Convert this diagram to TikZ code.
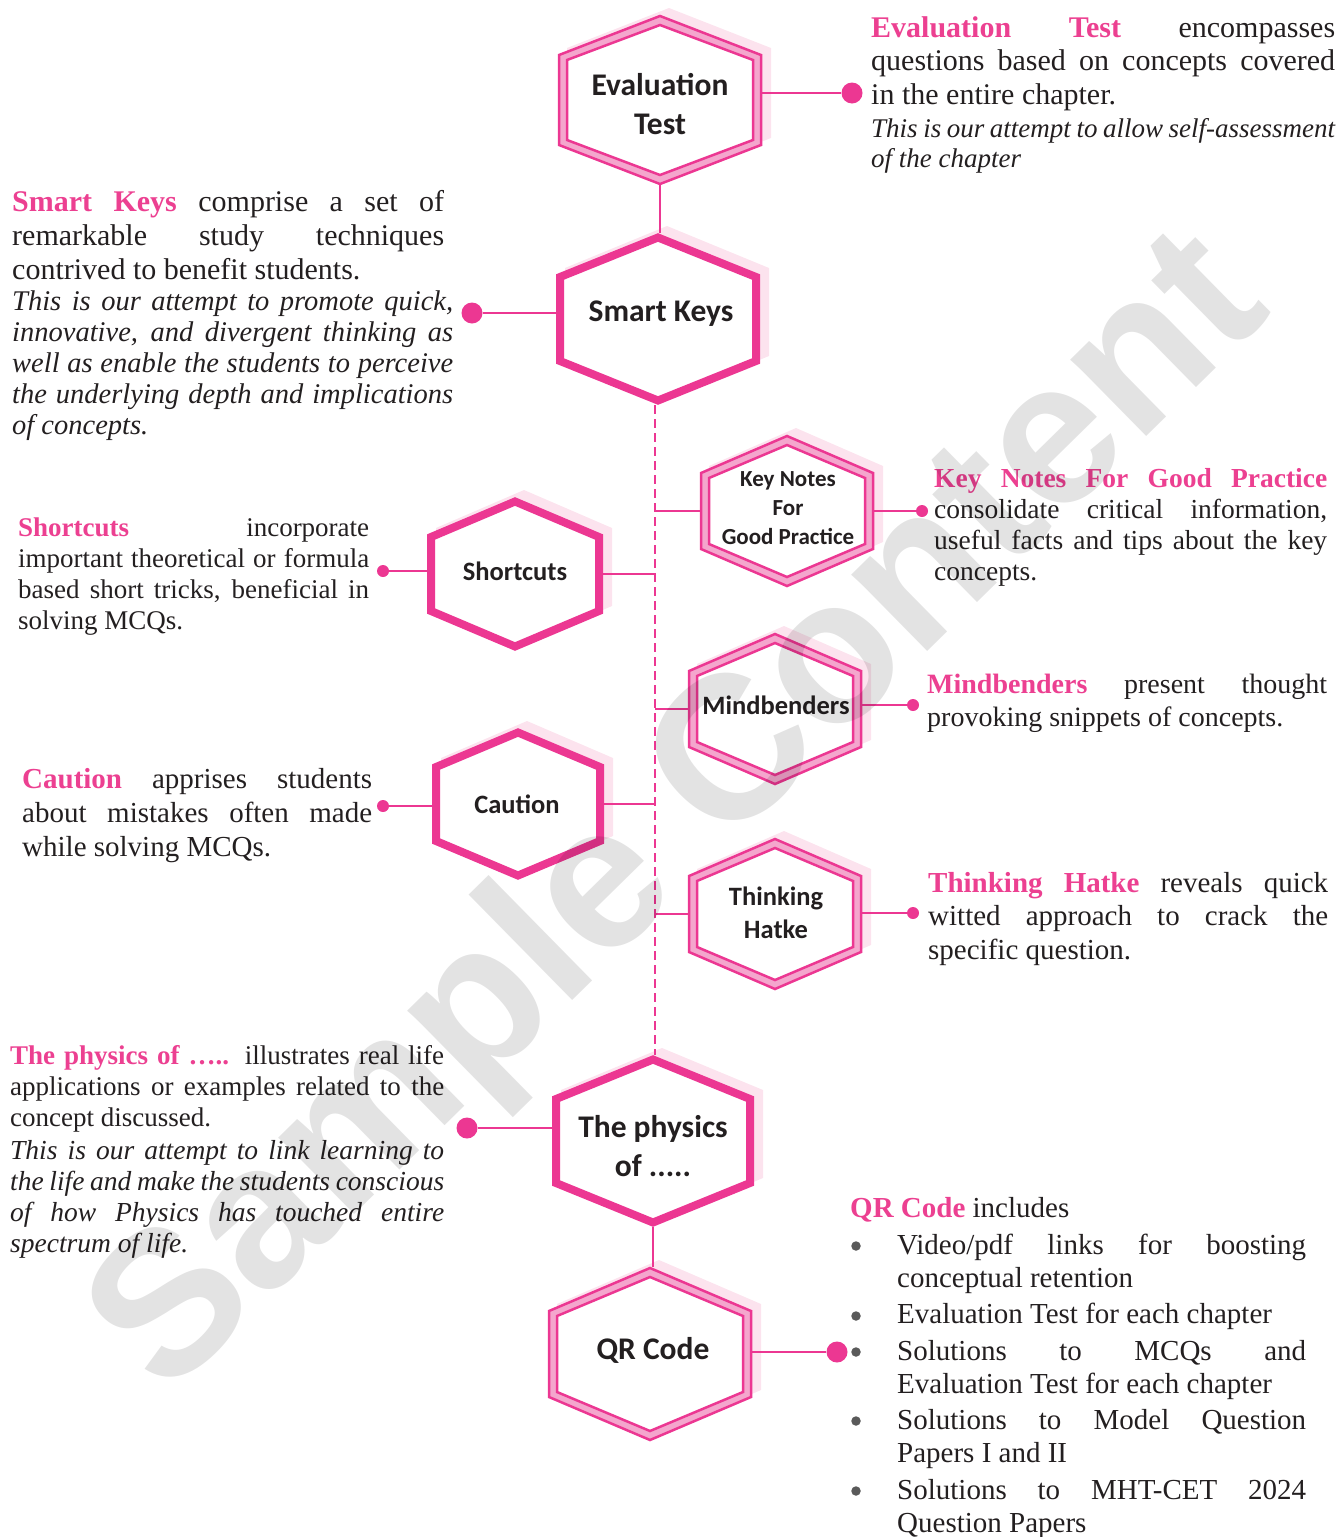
\documentclass[tikz,border=0pt]{standalone}
\usepackage{fontspec}
\setmainfont{Liberation Serif}[ItalicFont={Liberation Serif Italic}, BoldFont={Liberation Serif Bold}]
\newfontfamily\hexfont{Carlito}
\newfontfamily\markfont{Liberation Sans}

\definecolor{hexpink}{RGB}{236,55,146}
\definecolor{bandpink}{RGB}{244,166,205}
\definecolor{shadepink}{RGB}{252,227,238}
\definecolor{headpink}{RGB}{236,64,145}
\definecolor{inkgrey}{RGB}{35,31,32}
\definecolor{dotgrey}{RGB}{90,90,90}

\tolerance=10000
\hbadness=10000

\tikzset{
  hexshade/.style={fill=shadepink},
  hexband/.style={fill=bandpink, draw=hexpink, line width=2.5pt},
  hexinner/.style={fill=white, draw=hexpink, line width=2.5pt},
  hexthick/.style={fill=white, draw=hexpink, line width=8pt},
  biglabel/.style={font=\hexfont\bfseries\fontsize{31.5}{39}\selectfont, text=inkgrey, align=center, inner sep=0pt},
  smalllabel/.style={font=\hexfont\bfseries\fontsize{26.5}{33}\selectfont, text=inkgrey, align=center, inner sep=0pt},
  link/.style={draw=hexpink, line width=1.6pt},
  spine/.style={draw=hexpink, line width=1.6pt, dash pattern=on 9pt off 5pt},
  bigdot/.style={circle, fill=hexpink, inner sep=0pt, minimum size=21pt},
  smalldot/.style={circle, fill=hexpink, inner sep=0pt, minimum size=12pt},
  qrbullet/.style={circle, fill=dotgrey, inner sep=0pt, minimum size=9.5pt},
  body/.style 2 args={anchor=base west, inner sep=0pt, align=justify, text=inkgrey, font=\fontsize{#1}{#2}\selectfont},
  note/.style 2 args={anchor=base west, inner sep=0pt, align=justify, text=inkgrey, font=\fontsize{#1}{#2}\selectfont\itshape},
  watermark/.style={font=\markfont\bfseries\fontsize{204}{204}\selectfont, text=black, opacity=0.11, inner sep=0pt}
}

% pink bold lead words
\newcommand{\hk}[1]{\textcolor{headpink}{\bfseries #1}}
% hanging item of the QR list
\newcommand{\qritem}{\hangindent=47pt\hangafter=1\noindent\hspace*{47pt}}
% hexagon outline: half width, half height, half side
\newcommand{\hexpath}[3]{({0},{-(#2)}) -- ({#1},{-(#3)}) -- ({#1},{#3}) -- ({0},{#2}) -- ({-(#1)},{#3}) -- ({-(#1)},{-(#3)}) -- cycle}
% name, cx, cy, w, h, s
\newcommand{\twinhex}[6]{%
  \begin{scope}[shift={(#2,#3)}]
    \fill[hexshade, shift={(9,-7)}] \hexpath{#4}{#5}{#6};
    \filldraw[hexband] \hexpath{#4-1}{#5-1}{#6};
    \filldraw[hexinner] \hexpath{#4-9}{#5-10}{#6-5};
    \coordinate (#1-w) at (-#4,0);
    \coordinate (#1-e) at (#4,0);
    \coordinate (#1-n) at (0,-#5);
    \coordinate (#1-s) at (0,#5);
  \end{scope}}
\newcommand{\thickhex}[6]{%
  \begin{scope}[shift={(#2,#3)}]
    \fill[hexshade, shift={(9,-7)}] \hexpath{#4}{#5}{#6};
    \filldraw[hexthick] \hexpath{#4-4}{#5-4.5}{#6-2};
    \coordinate (#1-w) at (-#4,0);
    \coordinate (#1-e) at (#4,0);
    \coordinate (#1-n) at (0,-#5);
    \coordinate (#1-s) at (0,#5);
  \end{scope}}

\begin{document}
\begin{tikzpicture}[x=1pt,y=-1pt]
  \useasboundingbox (0,0) rectangle (1337,1537);

  % hexagons
  \twinhex{ev}{660}{100}{102}{85}{45}
  \thickhex{sk}{658}{319}{102}{86}{44}
  \twinhex{kn}{787}{511}{87}{76}{38}
  \thickhex{sc}{515}{574}{88}{77}{39}
  \twinhex{mb}{775}{709}{87}{76}{38}
  \thickhex{ca}{518}{804}{86}{76}{39}
  \twinhex{th}{775}{914}{87}{76}{38}
  \thickhex{ph}{653}{1141}{101}{86}{44}
  \twinhex{qr}{650}{1354}{102}{87}{43}

  % spine
  \coordinate (sptop) at (655,405);
  \coordinate (spbot) at (655,1055);
  \draw[spine] (sptop) -- (spbot);
  \draw[link] (ev-s) -- (ev-s |- sk-n);
  \draw[link] (ph-s) -- (ph-s |- qr-n);

  % dots
  \node[bigdot] (evdot) at (852,93) {};
  \node[bigdot] (skdot) at (472,313) {};
  \node[smalldot] (kndot) at (922,511) {};
  \node[smalldot] (scdot) at (383,571) {};
  \node[smalldot] (mbdot) at (913,705) {};
  \node[smalldot] (cadot) at (383,806) {};
  \node[smalldot] (thdot) at (913,913) {};
  \node[bigdot] (phdot) at (467,1128) {};
  \node[bigdot] (qrdot) at (837,1352) {};

  % connectors
  \draw[link] (evdot) -- (evdot -| ev-e);
  \draw[link] (skdot) -- (skdot -| sk-w);
  \draw[link] (kndot) -- (kndot -| kn-e);
  \draw[link] (kn-w) -- (kn-w -| sptop);
  \draw[link] (scdot) -- (scdot -| sc-w);
  \draw[link] (sc-e) -- (sc-e -| sptop);
  \draw[link] (mbdot) -- (mbdot -| mb-e);
  \draw[link] (mb-w) -- (mb-w -| sptop);
  \draw[link] (cadot) -- (cadot -| ca-w);
  \draw[link] (ca-e) -- (ca-e -| sptop);
  \draw[link] (thdot) -- (thdot -| th-e);
  \draw[link] (th-w) -- (th-w -| sptop);
  \draw[link] (phdot) -- (phdot -| ph-w);
  \draw[link] (qrdot) -- (qrdot -| qr-e);

  % hexagon labels
  \node[biglabel] (evl) at (660,104) {Evaluation\\Test};
  \node[biglabel] (skl) at (661,314) {Smart Keys};
  \node[smalllabel, font=\hexfont\bfseries\fontsize{23}{29}\selectfont] (knl) at (788,508) {Key Notes\\For\\Good Practice};
  \node[smalllabel] (scl) at (515,571) {Shortcuts};
  \node[smalllabel] (mbl) at (776,705) {Mindbenders};
  \node[smalllabel] (cal) at (517,804) {Caution};
  \node[smalllabel] (thl) at (776,913) {Thinking\\Hatke};
  \node[biglabel] (phl) at (653,1146) {The physics\\of .....};
  \node[biglabel] (qrl) at (653,1350) {QR Code};

  % texts
  \node[body={30}{33.5}, text width=464] (evtxt) at (871,37) {\hk{Evaluation Test} encompasses\linebreak questions based on concepts covered\linebreak in the entire chapter.};
  \node[note={27}{30}, text width=464] (evnote) at (871,137) {This is our attempt to allow self-assessment\linebreak of the chapter};

  \node[body={30}{34}, text width=432] (sktxt) at (12,211) {\hk{Smart Keys} comprise a set of\linebreak remarkable study techniques\linebreak contrived to benefit students.};
  \node[note={28.5}{31}, text width=441] (sknote) at (12,310) {This is our attempt to promote quick,\linebreak innovative, and divergent thinking as\linebreak well as enable the students to perceive\linebreak the underlying depth and implications\linebreak of concepts.};

  \node[body={27}{31.3}, text width=351] (sctxt) at (18,536) {\hk{Shortcuts} incorporate\linebreak important theoretical or formula\linebreak based short tricks, beneficial in\linebreak solving MCQs.};

  \node[body={27.5}{31.3}, text width=393] (kntxt) at (934,487) {\hk{Key Notes For Good Practice}\linebreak consolidate critical information,\linebreak useful facts and tips about the key\linebreak concepts.};

  \node[body={28}{33}, text width=400] (mbtxt) at (927,693) {\hk{Mindbenders} present thought\linebreak provoking snippets of concepts.};

  \node[body={29}{34}, text width=350] (catxt) at (22,788) {\hk{Caution} apprises students\linebreak about mistakes often made\linebreak while solving MCQs.};

  \node[body={29}{33.5}, text width=400] (thtxt) at (928,892) {\hk{Thinking Hatke} reveals quick\linebreak witted approach to crack the\linebreak specific question.};

  \node[body={27}{31}, text width=434] (phtxt) at (10,1064) {\hk{The physics of …..} illustrates real life\linebreak applications or examples related to the\linebreak concept discussed.};
  \node[note={27.5}{31}, text width=434] (phnote) at (10,1159) {This is our attempt to link learning to\linebreak the life and make the students conscious\linebreak of how Physics has touched entire\linebreak spectrum of life.};

  \node[body={29}{33}, text width=300] (qrtxt) at (850,1217) {\hk{QR Code} includes};
  \node[body={29}{33}, text width=456] (qrlist) at (850,1254) {\setlength{\parskip}{3.5pt}%
    \qritem Video/pdf links for boosting\linebreak conceptual retention\par
    \qritem Evaluation Test for each chapter\par
    \qritem Solutions to MCQs and\linebreak Evaluation Test for each chapter\par
    \qritem Solutions to Model Question\linebreak Papers I and II\par
    \qritem Solutions to MHT-CET 2024\linebreak Question Papers\par};
  \foreach \y [count=\i] in {1246,1316,1352,1421,1491}
    \node[qrbullet] (qb\i) at (856,\y) {};

  % watermark
  \node[watermark, rotate=44.5] (wm) at (683,818) {Sample Content};
\end{tikzpicture}
\end{document}
